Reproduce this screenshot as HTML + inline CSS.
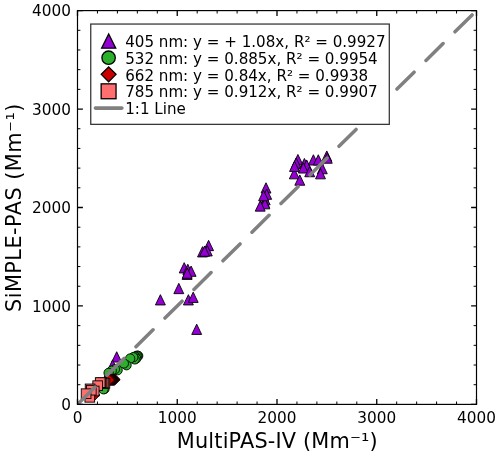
<!DOCTYPE html>
<html lang="en"><head><meta charset="utf-8"><title>SiMPLE-PAS vs MultiPAS-IV</title>
<style>html,body{margin:0;padding:0;background:#fff}body{width:500px;height:456px;overflow:hidden}</style>
</head><body>
<svg width="500" height="456" viewBox="0 0 500 456" style="display:block">
<rect width="500" height="456" fill="#fff"/>
<defs><clipPath id="ax"><rect x="77.5" y="10.6" width="399.0" height="393.79999999999995"/></clipPath></defs>
<g clip-path="url(#ax)">
<path d="M297.90 154.45L302.85 164.75L292.95 164.75Z" fill="#9400D3" stroke="#000" stroke-width="0.9" stroke-linejoin="miter"/>
<path d="M296.10 157.95L301.05 168.25L291.15 168.25Z" fill="#9400D3" stroke="#000" stroke-width="0.9" stroke-linejoin="miter"/>
<path d="M294.30 168.55L299.25 178.85L289.35 178.85Z" fill="#9400D3" stroke="#000" stroke-width="0.9" stroke-linejoin="miter"/>
<path d="M294.50 161.15L299.45 171.45L289.55 171.45Z" fill="#9400D3" stroke="#000" stroke-width="0.9" stroke-linejoin="miter"/>
<path d="M304.40 158.45L309.35 168.75L299.45 168.75Z" fill="#9400D3" stroke="#000" stroke-width="0.9" stroke-linejoin="miter"/>
<path d="M306.70 159.95L311.65 170.25L301.75 170.25Z" fill="#9400D3" stroke="#000" stroke-width="0.9" stroke-linejoin="miter"/>
<path d="M303.30 162.75L308.25 173.05L298.35 173.05Z" fill="#9400D3" stroke="#000" stroke-width="0.9" stroke-linejoin="miter"/>
<path d="M313.40 154.75L318.35 165.05L308.45 165.05Z" fill="#9400D3" stroke="#000" stroke-width="0.9" stroke-linejoin="miter"/>
<path d="M318.30 154.75L323.25 165.05L313.35 165.05Z" fill="#9400D3" stroke="#000" stroke-width="0.9" stroke-linejoin="miter"/>
<path d="M326.80 150.95L331.75 161.25L321.85 161.25Z" fill="#9400D3" stroke="#000" stroke-width="0.9" stroke-linejoin="miter"/>
<path d="M327.30 152.95L332.25 163.25L322.35 163.25Z" fill="#9400D3" stroke="#000" stroke-width="0.9" stroke-linejoin="miter"/>
<path d="M322.30 163.45L327.25 173.75L317.35 173.75Z" fill="#9400D3" stroke="#000" stroke-width="0.9" stroke-linejoin="miter"/>
<path d="M309.70 166.45L314.65 176.75L304.75 176.75Z" fill="#9400D3" stroke="#000" stroke-width="0.9" stroke-linejoin="miter"/>
<path d="M320.50 168.55L325.45 178.85L315.55 178.85Z" fill="#9400D3" stroke="#000" stroke-width="0.9" stroke-linejoin="miter"/>
<path d="M299.80 174.95L304.75 185.25L294.85 185.25Z" fill="#9400D3" stroke="#000" stroke-width="0.9" stroke-linejoin="miter"/>
<path d="M266.00 182.75L270.95 193.05L261.05 193.05Z" fill="#9400D3" stroke="#000" stroke-width="0.9" stroke-linejoin="miter"/>
<path d="M266.70 189.05L271.65 199.35L261.75 199.35Z" fill="#9400D3" stroke="#000" stroke-width="0.9" stroke-linejoin="miter"/>
<path d="M265.20 194.55L270.15 204.85L260.25 204.85Z" fill="#9400D3" stroke="#000" stroke-width="0.9" stroke-linejoin="miter"/>
<path d="M264.50 197.35L269.45 207.65L259.55 207.65Z" fill="#9400D3" stroke="#000" stroke-width="0.9" stroke-linejoin="miter"/>
<path d="M264.90 198.55L269.85 208.85L259.95 208.85Z" fill="#9400D3" stroke="#000" stroke-width="0.9" stroke-linejoin="miter"/>
<path d="M263.60 190.45L268.55 200.75L258.65 200.75Z" fill="#9400D3" stroke="#000" stroke-width="0.9" stroke-linejoin="miter"/>
<path d="M260.20 200.85L265.15 211.15L255.25 211.15Z" fill="#9400D3" stroke="#000" stroke-width="0.9" stroke-linejoin="miter"/>
<path d="M208.60 240.35L213.55 250.65L203.65 250.65Z" fill="#9400D3" stroke="#000" stroke-width="0.9" stroke-linejoin="miter"/>
<path d="M202.50 246.65L207.45 256.95L197.55 256.95Z" fill="#9400D3" stroke="#000" stroke-width="0.9" stroke-linejoin="miter"/>
<path d="M207.30 245.65L212.25 255.95L202.35 255.95Z" fill="#9400D3" stroke="#000" stroke-width="0.9" stroke-linejoin="miter"/>
<path d="M204.60 245.95L209.55 256.25L199.65 256.25Z" fill="#9400D3" stroke="#000" stroke-width="0.9" stroke-linejoin="miter"/>
<path d="M184.20 262.65L189.15 272.95L179.25 272.95Z" fill="#9400D3" stroke="#000" stroke-width="0.9" stroke-linejoin="miter"/>
<path d="M187.80 264.25L192.75 274.55L182.85 274.55Z" fill="#9400D3" stroke="#000" stroke-width="0.9" stroke-linejoin="miter"/>
<path d="M191.10 266.05L196.05 276.35L186.15 276.35Z" fill="#9400D3" stroke="#000" stroke-width="0.9" stroke-linejoin="miter"/>
<path d="M187.10 269.15L192.05 279.45L182.15 279.45Z" fill="#9400D3" stroke="#000" stroke-width="0.9" stroke-linejoin="miter"/>
<path d="M187.20 267.95L192.15 278.25L182.25 278.25Z" fill="#9400D3" stroke="#000" stroke-width="0.9" stroke-linejoin="miter"/>
<path d="M178.80 283.35L183.75 293.65L173.85 293.65Z" fill="#9400D3" stroke="#000" stroke-width="0.9" stroke-linejoin="miter"/>
<path d="M160.40 294.65L165.35 304.95L155.45 304.95Z" fill="#9400D3" stroke="#000" stroke-width="0.9" stroke-linejoin="miter"/>
<path d="M188.40 294.65L193.35 304.95L183.45 304.95Z" fill="#9400D3" stroke="#000" stroke-width="0.9" stroke-linejoin="miter"/>
<path d="M193.20 292.15L198.15 302.45L188.25 302.45Z" fill="#9400D3" stroke="#000" stroke-width="0.9" stroke-linejoin="miter"/>
<path d="M196.70 324.15L201.65 334.45L191.75 334.45Z" fill="#9400D3" stroke="#000" stroke-width="0.9" stroke-linejoin="miter"/>
<path d="M116.70 351.75L121.65 362.05L111.75 362.05Z" fill="#9400D3" stroke="#000" stroke-width="0.9" stroke-linejoin="miter"/>
<path d="M112.60 359.85L117.55 370.15L107.65 370.15Z" fill="#9400D3" stroke="#000" stroke-width="0.9" stroke-linejoin="miter"/>
<path d="M109.00 367.05L113.95 377.35L104.05 377.35Z" fill="#9400D3" stroke="#000" stroke-width="0.9" stroke-linejoin="miter"/>
<circle cx="138.20" cy="355.90" r="4.65" fill="#2CB02C" stroke="#000" stroke-width="0.9"/>
<circle cx="137.40" cy="355.60" r="4.65" fill="#2CB02C" stroke="#000" stroke-width="0.9"/>
<circle cx="136.50" cy="356.20" r="4.65" fill="#2CB02C" stroke="#000" stroke-width="0.9"/>
<circle cx="135.20" cy="356.60" r="4.65" fill="#2CB02C" stroke="#000" stroke-width="0.9"/>
<circle cx="136.20" cy="358.60" r="4.65" fill="#2CB02C" stroke="#000" stroke-width="0.9"/>
<circle cx="134.70" cy="359.40" r="4.65" fill="#2CB02C" stroke="#000" stroke-width="0.9"/>
<circle cx="133.30" cy="357.20" r="4.65" fill="#2CB02C" stroke="#000" stroke-width="0.9"/>
<circle cx="130.15" cy="358.50" r="4.65" fill="#2CB02C" stroke="#000" stroke-width="0.9"/>
<circle cx="126.55" cy="365.25" r="4.65" fill="#2CB02C" stroke="#000" stroke-width="0.9"/>
<circle cx="123.85" cy="363.45" r="4.65" fill="#2CB02C" stroke="#000" stroke-width="0.9"/>
<circle cx="117.60" cy="370.20" r="4.65" fill="#2CB02C" stroke="#000" stroke-width="0.9"/>
<circle cx="114.90" cy="369.30" r="4.65" fill="#2CB02C" stroke="#000" stroke-width="0.9"/>
<circle cx="111.70" cy="370.70" r="4.65" fill="#2CB02C" stroke="#000" stroke-width="0.9"/>
<circle cx="108.60" cy="372.90" r="4.65" fill="#2CB02C" stroke="#000" stroke-width="0.9"/>
<circle cx="104.50" cy="389.00" r="4.65" fill="#2CB02C" stroke="#000" stroke-width="0.9"/>
<circle cx="103.50" cy="389.30" r="4.65" fill="#2CB02C" stroke="#000" stroke-width="0.9"/>
<path d="M94.50 389.60L99.90 395.00L94.50 400.40L89.10 395.00Z" fill="#CC0000" stroke="#000" stroke-width="0.9" stroke-linejoin="miter"/>
<path d="M114.70 374.00L120.10 379.40L114.70 384.80L109.30 379.40Z" fill="#CC0000" stroke="#000" stroke-width="0.9" stroke-linejoin="miter"/>
<path d="M114.27 374.65L119.67 380.05L114.27 385.45L108.87 380.05Z" fill="#CC0000" stroke="#000" stroke-width="0.9" stroke-linejoin="miter"/>
<path d="M113.84 374.00L119.24 379.40L113.84 384.80L108.44 379.40Z" fill="#CC0000" stroke="#000" stroke-width="0.9" stroke-linejoin="miter"/>
<path d="M113.41 374.65L118.81 380.05L113.41 385.45L108.01 380.05Z" fill="#CC0000" stroke="#000" stroke-width="0.9" stroke-linejoin="miter"/>
<path d="M112.98 374.00L118.38 379.40L112.98 384.80L107.58 379.40Z" fill="#CC0000" stroke="#000" stroke-width="0.9" stroke-linejoin="miter"/>
<path d="M112.55 374.65L117.95 380.05L112.55 385.45L107.15 380.05Z" fill="#CC0000" stroke="#000" stroke-width="0.9" stroke-linejoin="miter"/>
<path d="M112.12 374.00L117.52 379.40L112.12 384.80L106.72 379.40Z" fill="#CC0000" stroke="#000" stroke-width="0.9" stroke-linejoin="miter"/>
<path d="M111.69 374.65L117.09 380.05L111.69 385.45L106.29 380.05Z" fill="#CC0000" stroke="#000" stroke-width="0.9" stroke-linejoin="miter"/>
<path d="M111.26 374.00L116.66 379.40L111.26 384.80L105.86 379.40Z" fill="#CC0000" stroke="#000" stroke-width="0.9" stroke-linejoin="miter"/>
<path d="M110.83 374.65L116.23 380.05L110.83 385.45L105.43 380.05Z" fill="#CC0000" stroke="#000" stroke-width="0.9" stroke-linejoin="miter"/>
<path d="M110.40 374.00L115.80 379.40L110.40 384.80L105.00 379.40Z" fill="#CC0000" stroke="#000" stroke-width="0.9" stroke-linejoin="miter"/>
<path d="M109.97 374.65L115.37 380.05L109.97 385.45L104.57 380.05Z" fill="#CC0000" stroke="#000" stroke-width="0.9" stroke-linejoin="miter"/>
<path d="M109.54 374.00L114.94 379.40L109.54 384.80L104.14 379.40Z" fill="#CC0000" stroke="#000" stroke-width="0.9" stroke-linejoin="miter"/>
<path d="M109.11 374.65L114.51 380.05L109.11 385.45L103.71 380.05Z" fill="#CC0000" stroke="#000" stroke-width="0.9" stroke-linejoin="miter"/>
<rect x="100.05" y="378.45" width="9.7" height="9.7" fill="#FF6F6F" stroke="#000" stroke-width="0.9"/>
<rect x="98.55" y="378.15" width="9.7" height="9.7" fill="#FF6F6F" stroke="#000" stroke-width="0.9"/>
<rect x="97.15" y="378.35" width="9.7" height="9.7" fill="#FF6F6F" stroke="#000" stroke-width="0.9"/>
<rect x="96.05" y="377.95" width="9.7" height="9.7" fill="#FF6F6F" stroke="#000" stroke-width="0.9"/>
<rect x="95.35" y="377.75" width="9.7" height="9.7" fill="#FF6F6F" stroke="#000" stroke-width="0.9"/>
<rect x="92.85" y="380.85" width="9.7" height="9.7" fill="#FF6F6F" stroke="#000" stroke-width="0.9"/>
<rect x="85.25" y="384.05" width="9.7" height="9.7" fill="#FF6F6F" stroke="#000" stroke-width="0.9"/>
<rect x="89.35" y="386.15" width="9.7" height="9.7" fill="#FF6F6F" stroke="#000" stroke-width="0.9"/>
<rect x="84.95" y="392.45" width="9.7" height="9.7" fill="#FF6F6F" stroke="#000" stroke-width="0.9"/>
<rect x="86.45" y="385.35" width="9.7" height="9.7" fill="#FF6F6F" stroke="#000" stroke-width="0.9"/>
<rect x="81.25" y="388.85" width="9.7" height="9.7" fill="#FF6F6F" stroke="#000" stroke-width="0.9"/>
<path d="M77.5 404.4L476.5 10.6" stroke="#808080" stroke-width="3.5" stroke-linecap="round" stroke-dasharray="24 16.75" stroke-dashoffset="-0.65" fill="none"/>
</g>
<path d="M77.50 404.4v-5.4M77.50 10.6v5.4M77.5 404.40h5.4M476.5 404.40h-5.4" stroke="#000" stroke-width="1.3" fill="none"/><path d="M97.45 404.4v-2.9M97.45 10.6v2.9M77.5 384.71h2.9M476.5 384.71h-2.9" stroke="#000" stroke-width="1.0" fill="none"/><path d="M117.40 404.4v-2.9M117.40 10.6v2.9M77.5 365.02h2.9M476.5 365.02h-2.9" stroke="#000" stroke-width="1.0" fill="none"/><path d="M137.35 404.4v-2.9M137.35 10.6v2.9M77.5 345.33h2.9M476.5 345.33h-2.9" stroke="#000" stroke-width="1.0" fill="none"/><path d="M157.30 404.4v-2.9M157.30 10.6v2.9M77.5 325.64h2.9M476.5 325.64h-2.9" stroke="#000" stroke-width="1.0" fill="none"/><path d="M177.25 404.4v-5.4M177.25 10.6v5.4M77.5 305.95h5.4M476.5 305.95h-5.4" stroke="#000" stroke-width="1.3" fill="none"/><path d="M197.20 404.4v-2.9M197.20 10.6v2.9M77.5 286.26h2.9M476.5 286.26h-2.9" stroke="#000" stroke-width="1.0" fill="none"/><path d="M217.15 404.4v-2.9M217.15 10.6v2.9M77.5 266.57h2.9M476.5 266.57h-2.9" stroke="#000" stroke-width="1.0" fill="none"/><path d="M237.10 404.4v-2.9M237.10 10.6v2.9M77.5 246.88h2.9M476.5 246.88h-2.9" stroke="#000" stroke-width="1.0" fill="none"/><path d="M257.05 404.4v-2.9M257.05 10.6v2.9M77.5 227.19h2.9M476.5 227.19h-2.9" stroke="#000" stroke-width="1.0" fill="none"/><path d="M277.00 404.4v-5.4M277.00 10.6v5.4M77.5 207.50h5.4M476.5 207.50h-5.4" stroke="#000" stroke-width="1.3" fill="none"/><path d="M296.95 404.4v-2.9M296.95 10.6v2.9M77.5 187.81h2.9M476.5 187.81h-2.9" stroke="#000" stroke-width="1.0" fill="none"/><path d="M316.90 404.4v-2.9M316.90 10.6v2.9M77.5 168.12h2.9M476.5 168.12h-2.9" stroke="#000" stroke-width="1.0" fill="none"/><path d="M336.85 404.4v-2.9M336.85 10.6v2.9M77.5 148.43h2.9M476.5 148.43h-2.9" stroke="#000" stroke-width="1.0" fill="none"/><path d="M356.80 404.4v-2.9M356.80 10.6v2.9M77.5 128.74h2.9M476.5 128.74h-2.9" stroke="#000" stroke-width="1.0" fill="none"/><path d="M376.75 404.4v-5.4M376.75 10.6v5.4M77.5 109.05h5.4M476.5 109.05h-5.4" stroke="#000" stroke-width="1.3" fill="none"/><path d="M396.70 404.4v-2.9M396.70 10.6v2.9M77.5 89.36h2.9M476.5 89.36h-2.9" stroke="#000" stroke-width="1.0" fill="none"/><path d="M416.65 404.4v-2.9M416.65 10.6v2.9M77.5 69.67h2.9M476.5 69.67h-2.9" stroke="#000" stroke-width="1.0" fill="none"/><path d="M436.60 404.4v-2.9M436.60 10.6v2.9M77.5 49.98h2.9M476.5 49.98h-2.9" stroke="#000" stroke-width="1.0" fill="none"/><path d="M456.55 404.4v-2.9M456.55 10.6v2.9M77.5 30.29h2.9M476.5 30.29h-2.9" stroke="#000" stroke-width="1.0" fill="none"/><path d="M476.50 404.4v-5.4M476.50 10.6v5.4M77.5 10.60h5.4M476.5 10.60h-5.4" stroke="#000" stroke-width="1.3" fill="none"/>
<rect x="77.5" y="10.6" width="399.0" height="393.79999999999995" fill="none" stroke="#000" stroke-width="1.18"/>
<g font-family="DejaVu Sans, Liberation Sans, sans-serif" font-size="15.28" fill="#000">
<text x="77.50" y="422.8" text-anchor="middle">0</text>
<text x="70.9" y="410.00" text-anchor="end">0</text>
<text x="177.25" y="422.8" text-anchor="middle">1000</text>
<text x="70.9" y="311.55" text-anchor="end">1000</text>
<text x="277.00" y="422.8" text-anchor="middle">2000</text>
<text x="70.9" y="213.10" text-anchor="end">2000</text>
<text x="376.75" y="422.8" text-anchor="middle">3000</text>
<text x="70.9" y="114.65" text-anchor="end">3000</text>
<text x="476.50" y="422.8" text-anchor="middle">4000</text>
<text x="70.9" y="16.20" text-anchor="end">4000</text>
</g>
<text font-family="DejaVu Sans, Liberation Sans, sans-serif" font-size="20.83" x="277.3" y="447.6" text-anchor="middle" textLength="200.9" lengthAdjust="spacing">MultiPAS-IV (Mm⁻¹)</text>
<text font-family="DejaVu Sans, Liberation Sans, sans-serif" font-size="20.83" transform="translate(20.9 207.8) rotate(-90)" text-anchor="middle" textLength="208.5" lengthAdjust="spacing">SiMPLE-PAS (Mm⁻¹)</text>
<rect x="90.75" y="24.05" width="298.55" height="100.3" fill="#fff" stroke="#333" stroke-width="1.25"/>
<path d="M108.70 33.95L115.75 48.15L101.65 48.15Z" fill="#9400D3" stroke="#000" stroke-width="1.3" stroke-linejoin="miter"/>
<circle cx="108.60" cy="57.70" r="6.70" fill="#2CB02C" stroke="#000" stroke-width="1.3"/>
<path d="M108.65 66.95L116.05 74.35L108.65 81.75L101.25 74.35Z" fill="#CC0000" stroke="#000" stroke-width="1.3" stroke-linejoin="miter"/>
<rect x="101.15" y="83.85" width="14.9" height="14.9" fill="#FF6F6F" stroke="#000" stroke-width="1.3"/>
<path d="M95.4 108.1H121.9" stroke="#808080" stroke-width="3.6" stroke-linecap="round"/>
<g font-family="DejaVu Sans, Liberation Sans, sans-serif" font-size="15.12" fill="#000">
<text x="125.2" y="46.70">405 nm: y = + 1.08x, R² = 0.9927</text>
<text x="125.2" y="63.60">532 nm: y = 0.885x, R² = 0.9954</text>
<text x="125.2" y="80.50">662 nm: y = 0.84x, R² = 0.9938</text>
<text x="125.2" y="97.40">785 nm: y = 0.912x, R² = 0.9907</text>
<text x="125.2" y="114.30">1:1 Line</text>
</g>
</svg>
</body></html>
